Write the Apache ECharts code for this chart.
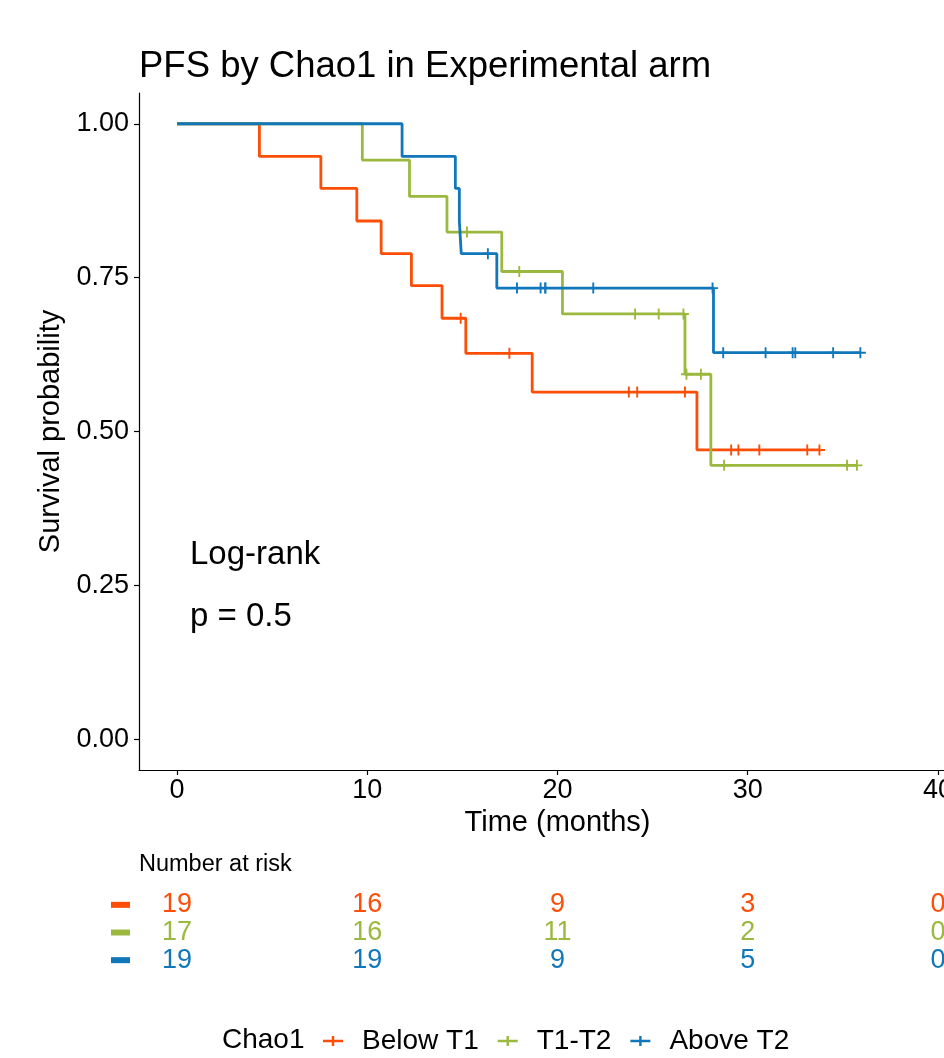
<!DOCTYPE html>
<html>
<head>
<meta charset="utf-8">
<script src="https://cdn.jsdelivr.net/npm/echarts@6/dist/echarts.min.js"></script>
<style>
  html, body { margin: 0; padding: 0; background: #fff; }
  #chart { width: 944px; height: 1058px; }
</style>
</head>
<body>
<div id="chart"></div>
<script>
// group names and colours
const groups = ["Below T1", "T1-T2", "Above T2"];
const colors = ["#FC4E07", "#9BB83F", "#1177BB"];

// step curves: event times and survival level after each step
const belowTimes = [0, 4.33, 7.56, 9.45, 10.73, 12.32, 13.93, 15.18, 18.67, 27.33];
const belowSurv = [1.0, 0.947, 0.895, 0.842, 0.789, 0.737, 0.684, 0.627, 0.564, 0.47];
const belowCensor = [14.91, 17.47, 23.75, 24.19, 26.7, 29.13, 29.51, 30.61, 33.13, 33.77];

const midTimes = [0, 9.74, 12.22, 14.19, 17.07, 20.26, 26.7, 28.06];
const midSurv = [1.0, 0.941, 0.882, 0.824, 0.76, 0.691, 0.593, 0.445];
const midCensor = [15.24, 17.99, 24.08, 25.32, 26.62, 26.78, 27.54, 28.76, 35.22, 35.74];

const aboveTimes = [0, 11.83, 14.63, 14.84, 14.94, 16.81, 28.2];
const aboveSurv = [1.0, 0.947, 0.895, 0.842, 0.789, 0.733, 0.628];
const aboveCensor = [16.34, 17.87, 19.11, 19.36, 19.36, 21.88, 28.15, 28.71, 30.94, 32.36, 32.5, 34.49, 35.92];

// number at risk table
const riskTimes = [0, 10, 20, 30, 40];
const riskBelow = [19, 16, 9, 3, 0];
const riskMid = [17, 16, 11, 2, 0];
const riskAbove = [19, 19, 9, 5, 0];

// axis ticks
const xTicks = [0, 10, 20, 30, 40];
const yTicks = [0, 0.25, 0.5, 0.75, 1];

const FONT = "'Liberation Sans', Arial, sans-serif";
const plusPath = "path://M-1,-0.17 L1,-0.17 L1,0.17 L-1,0.17 Z M-0.17,-1 L0.17,-1 L0.17,1 L-0.17,1 Z";
const legendIcon = "path://M0,3.8 L20,3.8 L20,6.2 L0,6.2 Z M8.8,0 L11.2,0 L11.2,10 L8.8,10 Z";

/** 生存曲线的点 */
const stepData = (times, surv, censor) => {
  const pts = times.map((t, i) => [t, surv[i]]);
  const end = Math.max(times[times.length - 1], censor[censor.length - 1]);
  pts.push([end, surv[surv.length - 1]]);
  return pts;
};

/** 删失点放在当时的生存值上 */
const censorData = (times, surv, censor) => {
  return censor.map(c => {
    let s = surv[0];
    times.forEach((t, i) => { if (t <= c) s = surv[i]; });
    return [c, s];
  });
};

const curves = [
  [belowTimes, belowSurv, belowCensor],
  [midTimes, midSurv, midCensor],
  [aboveTimes, aboveSurv, aboveCensor]
];
const risks = [riskBelow, riskMid, riskAbove];

const series = [];
curves.forEach((c, i) => {
  series.push({
    name: groups[i],
    type: "line",
    step: "end",
    xAxisIndex: 0,
    yAxisIndex: 0,
    showSymbol: false,
    symbol: "none",
    data: stepData(c[0], c[1], c[2]),
    lineStyle: { color: colors[i], width: 2.8 },
    itemStyle: { color: colors[i] },
    z: 3 + i
  });
  series.push({
    name: groups[i],
    type: "scatter",
    xAxisIndex: 0,
    yAxisIndex: 0,
    symbol: plusPath,
    symbolSize: 11,
    data: censorData(c[0], c[1], c[2]),
    itemStyle: { color: colors[i], opacity: 1 },
    z: 3 + i
  });
  series.push({
    name: "risk " + groups[i],
    type: "scatter",
    xAxisIndex: 1,
    yAxisIndex: 1,
    symbolSize: 1,
    itemStyle: { color: "rgba(0,0,0,0)", opacity: 1 },
    data: riskTimes.map((t, k) => [t, i, risks[i][k]]),
    label: {
      show: true,
      position: "inside",
      formatter: p => String(p.value[2]),
      color: colors[i],
      opacity: 1,
      fontSize: 27,
      fontFamily: FONT
    }
  });
});

const chart = echarts.init(document.getElementById("chart"), null, { renderer: "canvas" });

const option = {
  backgroundColor: "#ffffff",
  animation: false,
  textStyle: { fontFamily: FONT },
  title: [
    {
      text: "PFS by Chao1 in Experimental arm",
      left: 139,
      top: 48,
      padding: 0,
      textStyle: { fontSize: 36.5, fontWeight: "normal", color: "#000", fontFamily: FONT }
    },
    {
      text: "Number at risk",
      left: 139,
      top: 853,
      padding: 0,
      textStyle: { fontSize: 23.5, fontWeight: "normal", color: "#000", fontFamily: FONT }
    },
    {
      text: "Chao1",
      left: 222,
      top: 1026,
      padding: 0,
      textStyle: { fontSize: 28, fontWeight: "normal", color: "#000", fontFamily: FONT }
    }
  ],
  legend: {
    data: groups.map((g, i) => ({ name: g, icon: legendIcon, itemStyle: { color: colors[i] } })),
    left: 323,
    top: 1027,
    padding: 0,
    itemWidth: 20,
    itemHeight: 10,
    itemGap: 19,
    textStyle: { fontSize: 28, color: "#000", fontFamily: FONT, padding: [0, 0, 0, 14] }
  },
  grid: [
    { left: 139, width: 837, top: 93, height: 677, outerBoundsMode: "none", containLabel: false },
    { left: 139, width: 837, top: 891, height: 83, outerBoundsMode: "none", containLabel: false }
  ],
  xAxis: [
    {
      type: "value",
      gridIndex: 0,
      min: -2,
      max: 42,
      name: "Time (months)",
      nameLocation: "middle",
      nameGap: 38,
      nameTextStyle: { fontSize: 29, color: "#000", fontFamily: FONT },
      axisLine: { show: true, onZero: false, lineStyle: { color: "#000", width: 1.2 } },
      axisTick: { show: true, length: 5, customValues: xTicks, lineStyle: { color: "#000", width: 1.2 } },
      axisLabel: { show: true, customValues: xTicks, fontSize: 27, color: "#000", margin: 7, fontFamily: FONT },
      splitLine: { show: false }
    },
    {
      type: "value",
      gridIndex: 1,
      min: -2,
      max: 42,
      axisLine: { show: false },
      axisTick: { show: false },
      axisLabel: { show: false },
      splitLine: { show: false }
    }
  ],
  yAxis: [
    {
      type: "value",
      gridIndex: 0,
      min: -0.05,
      max: 1.05,
      name: "Survival probability",
      nameLocation: "middle",
      nameGap: 68,
      nameRotate: 90,
      nameTextStyle: { fontSize: 29, color: "#000", fontFamily: FONT },
      axisLine: { show: true, onZero: false, lineStyle: { color: "#000", width: 1.2 } },
      axisTick: { show: true, length: 5, customValues: yTicks, lineStyle: { color: "#000", width: 1.2 } },
      axisLabel: {
        show: true,
        customValues: yTicks,
        formatter: v => v.toFixed(2),
        fontSize: 27,
        color: "#000",
        margin: 10,
        fontFamily: FONT
      },
      splitLine: { show: false }
    },
    {
      type: "category",
      gridIndex: 1,
      inverse: true,
      data: [0, 1, 2],
      axisLine: { show: false },
      axisTick: { show: false },
      splitLine: { show: false },
      axisLabel: {
        margin: 9,
        formatter: v => "{s" + v + "|}",
        rich: {
          s0: { backgroundColor: colors[0], width: 19, height: 6 },
          s1: { backgroundColor: colors[1], width: 19, height: 6 },
          s2: { backgroundColor: colors[2], width: 19, height: 6 }
        }
      }
    }
  ],
  graphic: [
    {
      type: "text",
      left: 190,
      top: 538,
      style: { text: "Log-rank", fontSize: 33, fill: "#000", fontFamily: FONT }
    },
    {
      type: "text",
      left: 190,
      top: 600,
      style: { text: "p = 0.5", fontSize: 33, fill: "#000", fontFamily: FONT }
    }
  ],
  series: series
};

chart.setOption(option);
</script>
</body>
</html>
